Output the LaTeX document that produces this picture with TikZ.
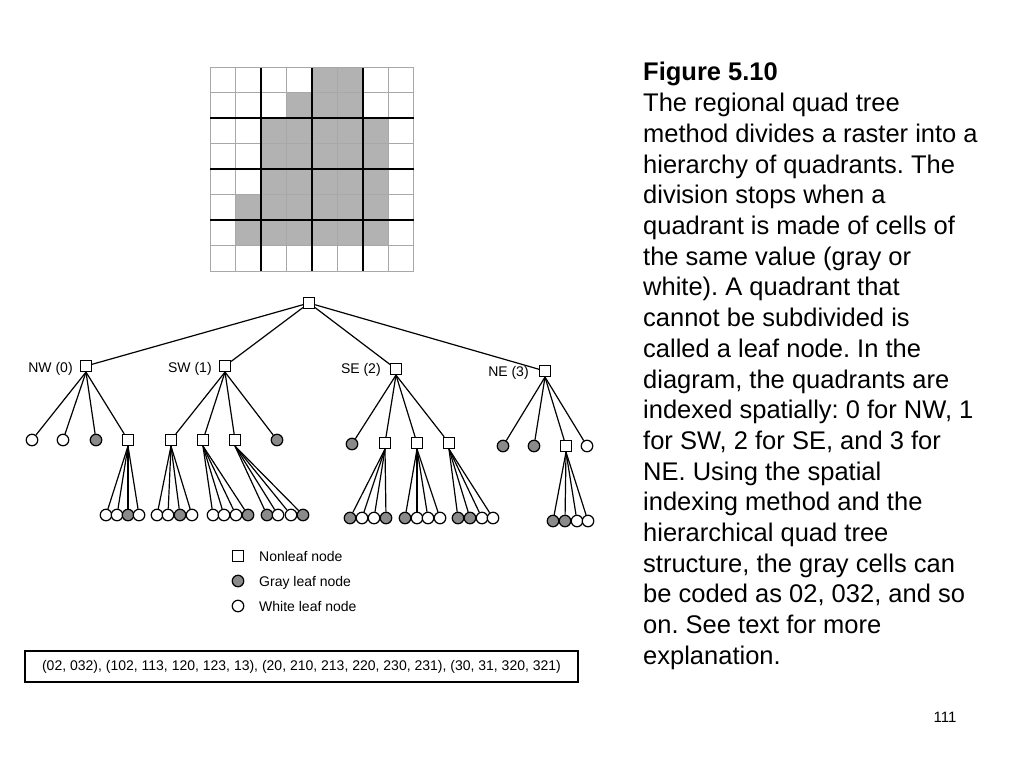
\documentclass[tikz,border=0pt]{standalone}
\usepackage{fontspec}
\setmainfont{Liberation Sans}
\usetikzlibrary{backgrounds}
\definecolor{cellgray}{HTML}{B2B2B2}
\definecolor{leafgray}{HTML}{8A8A8A}
\definecolor{gridgray}{HTML}{A8A8A8}
\frenchspacing
\begin{document}
\begin{tikzpicture}[x=1pt,y=-1pt,
  nl/.style={draw=black, line width=1.2pt, fill=white, rectangle, minimum size=11pt, inner sep=0pt},
  wl/.style={draw=black, line width=1.2pt, fill=white, circle, minimum size=11.5pt, inner sep=0pt},
  gl/.style={wl, fill=leafgray},
  edge/.style={line width=1.2pt},
  lbl/.style={font=\fontsize{14}{16}\selectfont, inner sep=0pt},
  body/.style={font=\fontsize{25.5}{30}\selectfont, inner sep=0pt, anchor=base west},
  thin grid/.style={draw=gridgray, line width=0.9pt},
  thick grid/.style={draw=black, line width=2pt},
]
\useasboundingbox (0,0) rectangle (1024,768);

% ---------- raster ----------
\def\cs{25.44}
\foreach \r/\a/\b in {0/4/5, 1/3/5, 2/2/6, 3/2/6, 4/2/6, 5/1/6, 6/1/6}
  \foreach \c in {\a,...,\b}
    \fill[cellgray] ({210+\c*\cs},{67.5+\r*\cs}) rectangle +(\cs,\cs);
\foreach \i in {0,...,8}{
  \draw[thin grid] ({210+\i*\cs},67.5) -- ({210+\i*\cs},{67.5+8*\cs});
  \draw[thin grid] (210,{67.5+\i*\cs}) -- ({210+8*\cs},{67.5+\i*\cs});
}
\foreach \i in {2,4,6}{
  \draw[thick grid] ({210+\i*\cs},67.5) -- ({210+\i*\cs},{67.5+8*\cs});
  \draw[thick grid] (210,{67.5+\i*\cs}) -- ({210+8*\cs},{67.5+\i*\cs});
}

% ---------- tree ----------
\node[nl] (root) at (309,303) {};
\node[nl] (n0) at (86,366) {};
\node[nl] (n1) at (225,366) {};
\node[nl] (n2) at (396,369) {};
\node[nl] (n3) at (545,371) {};
\node[lbl, anchor=base east] (l0) at ([xshift=-7pt,yshift=-6pt]n0.west) {NW (0)};
\node[lbl, anchor=base east] (l1) at ([xshift=-7pt,yshift=-6pt]n1.west) {SW (1)};
\node[lbl, anchor=base east] (l2) at ([xshift=-9pt,yshift=-4.5pt]n2.west) {SE (2)};
\node[lbl, anchor=base east] (l3) at ([xshift=-10pt,yshift=-5.5pt]n3.west) {NE (3)};

\node[wl] (n00) at (32,440) {};
\node[wl] (n01) at (63,440) {};
\node[gl] (n02) at (96,440) {};
\node[nl] (n03) at (128,440) {};
\node[nl] (n10) at (171,440) {};
\node[nl] (n11) at (203,440) {};
\node[nl] (n12) at (235,440) {};
\node[gl] (n13) at (277,440) {};
\node[gl] (n20) at (352,444) {};
\node[nl] (n21) at (385,443) {};
\node[nl] (n22) at (417,443) {};
\node[nl] (n23) at (449,443) {};
\node[gl] (n30) at (503,446) {};
\node[gl] (n31) at (534,446) {};
\node[nl] (n32) at (566,446) {};
\node[wl] (n33) at (587,446) {};

\foreach \p/\y/\xa/\sa/\xb/\sb/\xc/\sc/\xd/\sd in {
  03/515/106/wl/117/wl/128/gl/139/wl,
  10/515/157/wl/168/wl/180/gl/192/wl,
  11/515/213/wl/224/wl/236/wl/248/gl,
  12/515/267/gl/278/wl/291/wl/303/gl,
  21/518/350/gl/362/wl/374/wl/386/gl,
  22/518/405/gl/417/wl/428/wl/440/wl,
  23/518/458/gl/470/gl/482/wl/493/wl,
  32/521/553/gl/565/gl/577/wl/588/wl}{
  \node[\sa] (n\p0) at (\xa,\y) {};
  \node[\sb] (n\p1) at (\xb,\y) {};
  \node[\sc] (n\p2) at (\xc,\y) {};
  \node[\sd] (n\p3) at (\xd,\y) {};
}

\begin{pgfonlayer}{background}
  \foreach \c in {0,1,2,3}
    \draw[edge] (root) -- (n\c);
  \foreach \p in {0,1,2,3}
    \foreach \c in {0,1,2,3}
      \draw[edge] (n\p.south) -- (n\p\c);
  \foreach \p in {03,10,11,12,21,22,23,32}
    \foreach \c in {0,1,2,3}
      \draw[edge] (n\p.south) -- (n\p\c);
\end{pgfonlayer}

% ---------- legend ----------
\node[nl] (k1) at (238,556) {};
\node[gl] (k2) at (238,581) {};
\node[wl] (k3) at (238,606) {};
\node[lbl, anchor=base west] (k1t) at (259,561) {Nonleaf node};
\node[lbl, anchor=base west] (k2t) at (259,586) {Gray leaf node};
\node[lbl, anchor=base west] (k3t) at (259,611) {White leaf node};

\node[lbl, draw=black, line width=1.8pt, minimum width=553pt, minimum height=31pt]
  (codes) at (301.5,666.5) {(02, 032), (102, 113, 120, 123, 13), (20, 210, 213, 220, 230, 231), (30, 31, 320, 321)};

% ---------- caption ----------
\node[body, font=\fontsize{25.5}{30}\selectfont\bfseries] (fig) at (643,81) {Figure 5.10};
\foreach \t [count=\i from 0] in {
  {The regional quad tree},
  {method divides a raster into a},
  {hierarchy of quadrants. The},
  {division stops when a},
  {quadrant is made of cells of},
  {the same value (gray or},
  {white). A quadrant that},
  {cannot be subdivided is},
  {called a leaf node. In the},
  {diagram, the quadrants are},
  {indexed spatially: 0 for NW, 1},
  {for SW, 2 for SE, and 3 for},
  {NE. Using the spatial},
  {indexing method and the},
  {hierarchical quad tree},
  {structure, the gray cells can},
  {be coded as 02, 032, and so},
  {on. See text for more},
  {explanation.}}
  \node[body] (t\i) at (643,{111.7+\i*30.7}) {\t};

\node[font=\fontsize{15}{17}\selectfont, inner sep=0pt] (page) at (945,717) {111};
\end{tikzpicture}
\end{document}
